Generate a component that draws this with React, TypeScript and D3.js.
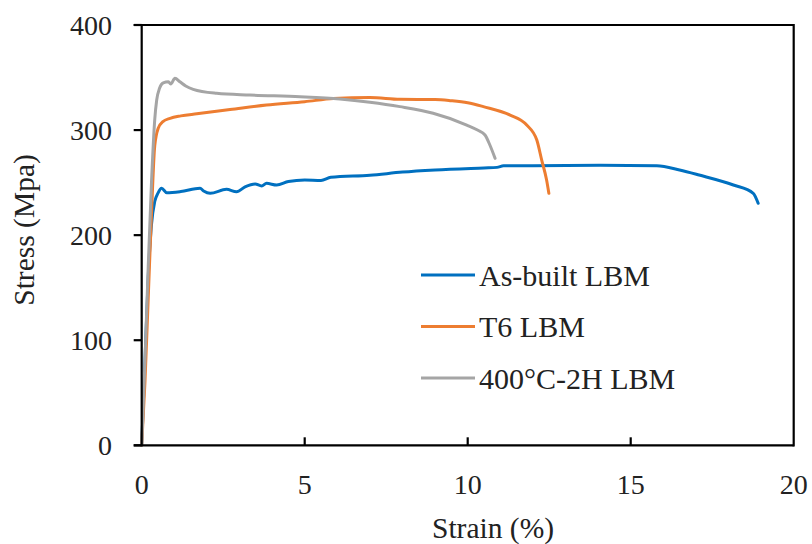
import React from "react";
import * as d3 from "d3";

const asBuiltStrain = [0, 0.1, 0.2, 0.3, 0.4, 0.5, 0.61, 0.77, 1.2, 1.79, 1.9, 2.1, 2.6, 2.91, 3.17, 3.48, 3.68, 3.83, 4.14, 4.5, 5.0, 5.5, 5.8, 7.0, 8.0, 9.0, 10.5, 10.9, 11.1, 12, 14.06, 15.8, 16.5, 17.1, 18.15, 18.76, 18.91];
const asBuiltStress = [0, 80, 160, 210, 232, 240, 244.6, 240.4, 241.5, 244.6, 242, 239.8, 243.6, 241.3, 246, 248.7, 246.8, 249.3, 247.7, 251, 252.5, 252, 255, 257, 260, 262, 264, 264.5, 266, 266, 266.5, 266, 262, 257.2, 247.7, 239.8, 230.3];

const t6Strain = [0, 0.1, 0.2, 0.3, 0.4, 0.51, 0.65, 0.87, 1.2, 1.69, 2.71, 3.83, 5.0, 5.88, 7.0, 7.92, 9.0, 9.46, 10.0, 10.48, 11.3, 11.81, 12.12, 12.27, 12.42, 12.49];
const t6Stress = [0, 60, 140, 220, 285, 302, 308, 311.2, 313.5, 315.5, 319.5, 323.9, 327, 330, 331, 329.3, 329, 328, 326, 322.3, 314.3, 304.8, 290.5, 271.5, 252.5, 239.8];

const h400Strain = [0, 0.1, 0.2, 0.3, 0.4, 0.46, 0.55, 0.66, 0.82, 0.89, 1.02, 1.17, 1.35, 1.58, 2.3, 3.32, 4.86, 6.08, 7.0, 7.92, 8.94, 9.97, 10.3, 10.53, 10.68, 10.84];
const h400Stress = [0, 80, 170, 250, 310, 328.6, 340, 345, 346, 343.8, 349.3, 346, 342, 338.8, 335, 333.4, 331.8, 329.6, 326.5, 322.3, 316, 304.8, 300, 295.3, 285.8, 273.1];

const seriesNames = ["As-built LBM", "T6 LBM", "400°C-2H LBM"];
const seriesColors = ["#0070C0", "#ED7D31", "#A5A5A5"];
const xTicks = [0, 5, 10, 15, 20];
const yTicks = [0, 100, 200, 300, 400];

const W = 812, H = 544;
const left = 141.7, right = 793.7, top = 25, bottom = 445.3;
const FONT = "'Liberation Serif', 'Times New Roman', serif";

export default function App() {
  const x = d3.scaleLinear().domain([0, 20]).range([left, right]);
  const y = d3.scaleLinear().domain([0, 400]).range([bottom, top]);
  const line = d3
    .line<[number, number]>()
    .x((d) => x(d[0]))
    .y((d) => y(d[1]))
    .curve(d3.curveMonotoneX);

  const series = [
    d3.zip(asBuiltStrain, asBuiltStress) as [number, number][],
    d3.zip(t6Strain, t6Stress) as [number, number][],
    d3.zip(h400Strain, h400Stress) as [number, number][],
  ];

  const legendX1 = 421, legendX2 = 475, legendY0 = 275, legendDy = 51.5;

  return (
    <svg width={W} height={H} style={{ position: "absolute", left: 0, top: 0, background: "#fff" }} fontFamily={FONT}>
      <rect x={0} y={0} width={W} height={H} fill="#fff" />
      {series.map((s, i) => (
        <path key={i} d={line(s) || ""} fill="none" stroke={seriesColors[i]} strokeWidth={3} strokeLinejoin="round" strokeLinecap="round" />
      ))}
      <line x1={left} x2={left} y1={top} y2={bottom} stroke="#000" strokeWidth={2.2} />
      <line x1={left - 8} x2={right} y1={bottom} y2={bottom} stroke="#000" strokeWidth={2.2} />
      <line x1={left - 8} x2={right} y1={top} y2={top} stroke="#000" strokeWidth={2.2} />
      <line x1={right} x2={right} y1={top - 1.1} y2={bottom + 1.1} stroke="#000" strokeWidth={2.2} />
      {yTicks.map((t) => (
        <g key={"y" + t}>
          <line x1={left - 8} x2={left} y1={y(t)} y2={y(t)} stroke="#000" strokeWidth={2.2} />
          <text x={112} y={y(t)} dy="0.35em" textAnchor="end" fontSize={28} fill="#222">{t}</text>
        </g>
      ))}
      {xTicks.map((t) => (
        <g key={"x" + t}>
          {t > 0 && t < 20 && <line x1={x(t)} x2={x(t)} y1={bottom} y2={bottom - 8} stroke="#000" strokeWidth={2.2} />}
          <text x={x(t)} y={494} textAnchor="middle" fontSize={28} fill="#222">{t}</text>
        </g>
      ))}
      <text x={493} y={538} textAnchor="middle" fontSize={29.5} fill="#222">Strain (%)</text>
      <text transform={`translate(34, 230) rotate(-90)`} textAnchor="middle" fontSize={29.5} fill="#222">Stress (Mpa)</text>
      {seriesNames.map((n, i) => (
        <g key={n}>
          <line x1={legendX1} x2={legendX2} y1={legendY0 + i * legendDy} y2={legendY0 + i * legendDy} stroke={seriesColors[i]} strokeWidth={3} />
          <text x={479} y={legendY0 + i * legendDy} dy="0.35em" fontSize={30} fill="#222">{n}</text>
        </g>
      ))}
    </svg>
  );
}
